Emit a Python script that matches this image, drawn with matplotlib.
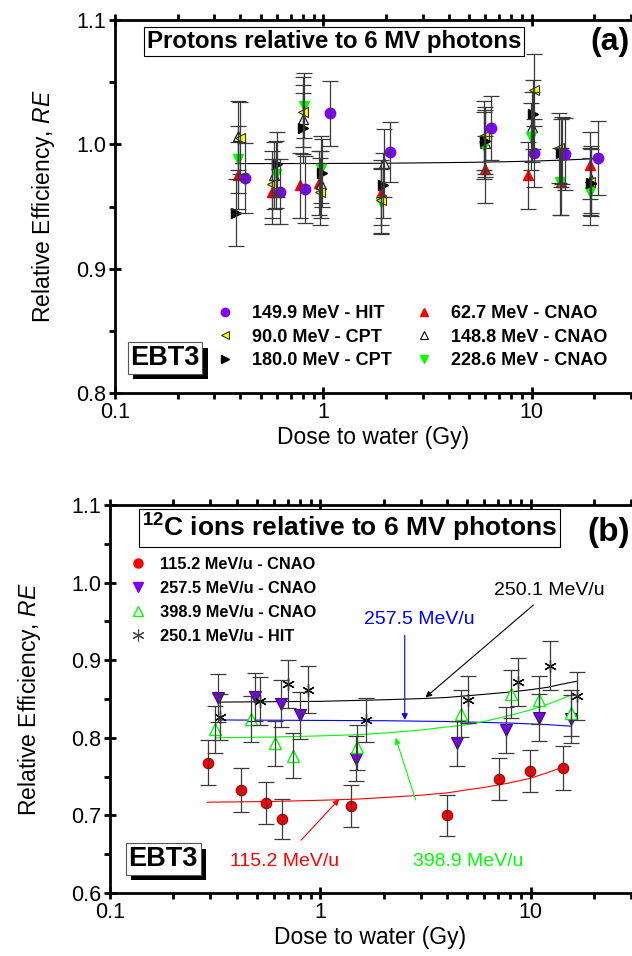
import numpy as np
import matplotlib
matplotlib.use('Agg')
import matplotlib.pyplot as plt
from matplotlib.lines import Line2D
from matplotlib.ticker import LogLocator, NullFormatter, MultipleLocator, FormatStrFormatter
from matplotlib import patheffects

plt.rcParams['font.family'] = ['Liberation Sans', 'DejaVu Sans']
plt.rcParams['mathtext.fontset'] = 'custom'
plt.rcParams['mathtext.rm'] = 'Liberation Sans'
plt.rcParams['mathtext.it'] = 'Liberation Sans:italic'
plt.rcParams['mathtext.bf'] = 'Liberation Sans:bold'

# ---- panel (a): protons relative to 6 MV photons ----
hit149_dose = [0.42, 0.62, 0.82, 1.08, 2.1, 6.4, 10.3, 14.5, 20.8]
hit149_re = [0.973, 0.962, 0.964, 1.025, 0.994, 1.013, 0.993, 0.992, 0.989]
hit149_err = [0.028, 0.026, 0.027, 0.026, 0.024, 0.026, 0.027, 0.029, 0.030]

cpt90_dose = [0.40, 0.57, 0.80, 0.96, 1.89, 5.9, 10.3, 13.6, 19.1]
cpt90_re = [1.005, 0.968, 1.026, 0.962, 0.955, 1.007, 1.044, 0.997, 0.970]
cpt90_err = [0.029, 0.027, 0.028, 0.027, 0.026, 0.028, 0.029, 0.028, 0.027]

cpt180_dose = [0.38, 0.60, 0.80, 0.99, 1.93, 6.0, 10.2, 13.9, 19.3]
cpt180_re = [0.945, 0.984, 1.013, 0.977, 0.967, 1.003, 1.024, 0.993, 0.969]
cpt180_err = [0.027, 0.026, 0.028, 0.027, 0.026, 0.027, 0.028, 0.027, 0.027]

cnao62_dose = [0.39, 0.57, 0.77, 0.95, 1.90, 6.0, 9.6, 13.9, 19.1]
cnao62_re = [0.975, 0.962, 0.967, 0.969, 0.961, 0.980, 0.975, 0.970, 0.983]
cnao62_err = [0.027, 0.026, 0.026, 0.026, 0.026, 0.027, 0.027, 0.027, 0.027]

cnao148_dose = [0.39, 0.58, 0.80, 0.97, 1.95, 6.0, 10.0, 14.0, 19.3]
cnao148_re = [1.007, 0.975, 1.020, 0.968, 0.985, 1.001, 1.014, 0.995, 0.972]
cnao148_err = [0.028, 0.027, 0.028, 0.027, 0.027, 0.027, 0.028, 0.027, 0.027]

cnao228_dose = [0.39, 0.59, 0.81, 0.97, 1.89, 5.9, 9.9, 13.7, 19.1]
cnao228_re = [0.988, 0.976, 1.031, 0.980, 0.954, 0.999, 1.006, 0.970, 0.962]
cnao228_err = [0.027, 0.027, 0.026, 0.027, 0.026, 0.027, 0.027, 0.027, 0.027]

fit_a_dose = [0.38, 1.0, 2.0, 5.0, 8.0, 11.0, 14.0, 17.0, 20.0]
fit_a_re = [0.9845, 0.9846, 0.9848, 0.9855, 0.9861, 0.9867, 0.9873, 0.9879, 0.9885]

# ---- panel (b): 12C ions relative to 6 MV photons ----
c115_dose = [0.293, 0.42, 0.55, 0.66, 1.40, 4.0, 7.06, 9.9, 14.2]
c115_re = [0.768, 0.733, 0.716, 0.695, 0.712, 0.700, 0.747, 0.757, 0.761]
c115_err = [0.029, 0.028, 0.027, 0.026, 0.027, 0.026, 0.027, 0.027, 0.028]

c257_dose = [0.327, 0.49, 0.65, 0.80, 1.48, 4.48, 7.6, 10.9, 15.5]
c257_re = [0.851, 0.853, 0.844, 0.829, 0.773, 0.793, 0.810, 0.826, 0.824]
c257_err = [0.031, 0.031, 0.030, 0.030, 0.029, 0.029, 0.030, 0.030, 0.031]

c398_dose = [0.316, 0.47, 0.61, 0.74, 1.49, 4.68, 8.05, 11.0, 15.6]
c398_re = [0.811, 0.824, 0.793, 0.777, 0.788, 0.831, 0.856, 0.849, 0.832]
c398_err = [0.030, 0.030, 0.029, 0.029, 0.029, 0.030, 0.031, 0.031, 0.030]

c250_dose = [0.334, 0.515, 0.70, 0.87, 1.65, 5.05, 8.7, 12.3, 16.7]
c250_re = [0.827, 0.847, 0.869, 0.862, 0.823, 0.849, 0.872, 0.893, 0.854]
c250_err = [0.030, 0.031, 0.031, 0.030, 0.028, 0.030, 0.031, 0.032, 0.031]

fit115_dose = [0.29, 0.6, 1.0, 1.5, 2.0, 3.0, 4.0, 5.0, 6.0, 8.0, 10.0, 12.0, 14.2]
fit115_re = [0.717, 0.718, 0.7195, 0.721, 0.723, 0.726, 0.729, 0.733, 0.736, 0.742, 0.748, 0.755, 0.762]
fit257_dose = [0.33, 2.0, 4.0, 8.0, 12.0, 15.5]
fit257_re = [0.823, 0.822, 0.821, 0.819, 0.817, 0.815]
fit398_dose = [0.316, 0.6, 1.0, 1.5, 2.0, 3.0, 4.0, 5.0, 6.0, 8.0, 10.0, 12.0, 14.0, 15.6]
fit398_re = [0.800, 0.801, 0.8025, 0.804, 0.806, 0.810, 0.814, 0.817, 0.821, 0.829, 0.836, 0.843, 0.850, 0.855]
fit250_dose = [0.33, 1.0, 2.0, 3.0, 4.0, 6.0, 8.0, 10.0, 12.0, 14.0, 16.7]
fit250_re = [0.846, 0.847, 0.849, 0.8505, 0.852, 0.856, 0.859, 0.862, 0.865, 0.869, 0.873]

PURPLE = '#8000FF'
YELLOW = '#FFFF00'
RED = '#FF0000'
GREEN = '#00FF00'
BLUE = '#0000FF'
ERRC = '#3a3a3a'


def style_axes(ax, ylo, yhi, ylabelpad):
    ax.set_xscale('log')
    ax.set_xlim(0.1, 30)
    ax.set_ylim(ylo, yhi)
    for s in ['left', 'bottom', 'top']:
        ax.spines[s].set_linewidth(2)
    ax.spines['right'].set_visible(False)
    ax.set_xticks([0.1, 1, 10])
    ax.set_xticklabels(['0.1', '1', '10'])
    ax.xaxis.set_minor_locator(LogLocator(base=10, subs=np.arange(2, 10)))
    ax.xaxis.set_minor_formatter(NullFormatter())
    ax.yaxis.set_major_locator(MultipleLocator(0.1))
    ax.yaxis.set_minor_locator(MultipleLocator(0.05))
    ax.yaxis.set_major_formatter(FormatStrFormatter('%.1f'))
    ax.tick_params(axis='x', which='major', direction='inout', length=9, width=2,
                   top=True, labelsize=15.5, pad=2)
    ax.tick_params(axis='x', which='minor', direction='out', length=4.5, width=2, top=True)
    ax.tick_params(axis='y', which='major', direction='inout', length=9, width=2,
                   right=False, labelsize=15.5, pad=2)
    ax.tick_params(axis='y', which='minor', direction='out', length=4.5, width=2, right=False)
    ax.set_xlabel('Dose to water (Gy)', fontsize=16.5, labelpad=2)
    ax.set_ylabel(r'Relative Efficiency, $\mathit{RE}$', fontsize=16.5, labelpad=ylabelpad)


def series(ax, d, v, e, **kw):
    ax.plot(d, v, ls='none', zorder=3, **kw)
    ax.errorbar(d, v, yerr=e, fmt='none', ecolor=ERRC, elinewidth=0.9,
                capsize=5.5, capthick=0.9, zorder=4)


def ebt3(ax, x, y):
    t = ax.text(x, y, 'EBT3', transform=ax.transAxes, ha='center', va='center', fontsize=19.5,
                fontweight='bold',
                bbox=dict(boxstyle='square,pad=0.1', fc='white', ec='#555555', lw=0.8), zorder=7)
    t.get_bbox_patch().set_path_effects([
        patheffects.SimplePatchShadow(offset=(4, -4), shadow_rgbFace='black', alpha=1.0),
        patheffects.Normal()])


fig = plt.figure(figsize=(6.32, 9.56), dpi=100)
ax1 = fig.add_axes([115 / 632, 1 - 393 / 956, 516 / 632, 373 / 956])
ax2 = fig.add_axes([110 / 632, 1 - 893 / 956, 521 / 632, 388 / 956])

# ---------- panel (a) ----------
style_axes(ax1, 0.8, 1.1, 14)
ax1.plot(fit_a_dose, fit_a_re, color='black', lw=0.8, zorder=2)
ms = 7.5
series(ax1, cnao62_dose, cnao62_re, cnao62_err, marker='^', ms=ms, mfc=RED, mec=RED)
series(ax1, cnao148_dose, cnao148_re, cnao148_err, marker='^', ms=ms, mfc='white', mec='black', mew=0.8)
series(ax1, cnao228_dose, cnao228_re, cnao228_err, marker='v', ms=ms, mfc=GREEN, mec=GREEN)
series(ax1, cpt90_dose, cpt90_re, cpt90_err, marker='<', ms=ms, mfc=YELLOW, mec='#333300', mew=0.8)
series(ax1, cpt180_dose, cpt180_re, cpt180_err, marker='>', ms=ms, mfc='black', mec='black')
series(ax1, hit149_dose, hit149_re, hit149_err, marker='o', ms=ms, mfc=PURPLE, mec=PURPLE)

ax1.text(0.062, 0.942, 'Protons relative to 6 MV photons', transform=ax1.transAxes,
         ha='left', va='center', fontsize=17.3, fontweight='bold',
         bbox=dict(boxstyle='square,pad=0.12', fc='white', ec='black', lw=0.8), zorder=6)
ax1.text(0.997, 0.941, '(a)', transform=ax1.transAxes, ha='right', va='center',
         fontsize=23, fontweight='bold')
ebt3(ax1, 0.097, 0.094)

h_a = [
    Line2D([], [], ls='none', marker='o', ms=6, mfc=PURPLE, mec=PURPLE),
    Line2D([], [], ls='none', marker='<', ms=6, mfc=YELLOW, mec='#333300', mew=0.8),
    Line2D([], [], ls='none', marker='>', ms=6, mfc='black', mec='black'),
    Line2D([], [], ls='none', marker='^', ms=6, mfc=RED, mec=RED),
    Line2D([], [], ls='none', marker='^', ms=6, mfc='white', mec='black', mew=0.8),
    Line2D([], [], ls='none', marker='v', ms=6, mfc=GREEN, mec=GREEN),
]
l_a = ['149.9 MeV - HIT', '90.0 MeV - CPT', '180.0 MeV - CPT',
       '62.7 MeV - CNAO', '148.8 MeV - CNAO', '228.6 MeV - CNAO']
ax1.legend(h_a, l_a, ncol=2, loc='lower left', bbox_to_anchor=(0.178, 0.04),
           frameon=False, prop={'weight': 'bold', 'size': 13}, handlelength=1.0,
           handletextpad=1.0, columnspacing=1.3, labelspacing=0.36, borderpad=0)

# ---------- panel (b) ----------
style_axes(ax2, 0.6, 1.1, 20)
ax2.plot(fit250_dose, fit250_re, color='black', lw=0.8, zorder=2)
ax2.plot(fit257_dose, fit257_re, color=BLUE, lw=0.8, zorder=2)
ax2.plot(fit398_dose, fit398_re, color=GREEN, lw=0.8, zorder=2)
ax2.plot(fit115_dose, fit115_re, color=RED, lw=0.8, zorder=2)

series(ax2, c115_dose, c115_re, c115_err, marker='o', ms=7.5, mfc=RED, mec='#990000', mew=0.8)
series(ax2, c257_dose, c257_re, c257_err, marker='v', ms=8, mfc=PURPLE, mec='#400080', mew=0.8)
series(ax2, c398_dose, c398_re, c398_err, marker='^', ms=8, mfc='white', mec=GREEN, mew=1.0)
series(ax2, c250_dose, c250_re, c250_err, marker=(6, 2, 0), ms=9, mfc='black', mec='black', mew=0.9)

ax2.text(0.061, 0.941, r'$^{\mathbf{12}}$C ions relative to 6 MV photons', transform=ax2.transAxes,
         ha='left', va='center', fontsize=19, fontweight='bold',
         bbox=dict(boxstyle='square,pad=0.12', fc='white', ec='black', lw=0.8), zorder=6)
ax2.text(0.997, 0.930, '(b)', transform=ax2.transAxes, ha='right', va='center',
         fontsize=24, fontweight='bold')
ebt3(ax2, 0.102, 0.088)

h_b = [
    Line2D([], [], ls='none', marker='o', ms=6.5, mfc=RED, mec=RED),
    Line2D([], [], ls='none', marker='v', ms=7, mfc=PURPLE, mec=PURPLE),
    Line2D([], [], ls='none', marker='^', ms=7, mfc='white', mec=GREEN, mew=1.0),
    Line2D([], [], ls='none', marker=(6, 2, 0), ms=8.5, mfc='#444444', mec='#444444', mew=0.8),
]
l_b = ['115.2 MeV/u - CNAO', '257.5 MeV/u - CNAO', '398.9 MeV/u - CNAO', '250.1 MeV/u - HIT']
ax2.legend(h_b, l_b, loc='upper left', bbox_to_anchor=(0.023, 0.888), frameon=False,
           prop={'weight': 'bold', 'size': 11.8}, handlelength=1.0, handletextpad=0.8,
           labelspacing=0.55, borderpad=0)

# annotations
arr = dict(arrowstyle='-|>', lw=0.8, mutation_scale=9, shrinkA=0, shrinkB=0)
ax2.annotate('', xy=(3.16, 0.852), xytext=(10.3, 0.971), arrowprops=dict(arr, color='black'))
ax2.text(12.3, 0.990, '250.1 MeV/u', color='black', fontsize=14, ha='center', va='center')
ax2.annotate('', xy=(2.52, 0.823), xytext=(2.52, 0.932), arrowprops=dict(arr, color=BLUE))
ax2.text(2.97, 0.952, '257.5 MeV/u', color=BLUE, fontsize=14, ha='center', va='center')
ax2.annotate('', xy=(1.23, 0.721), xytext=(0.81, 0.668), arrowprops=dict(arr, color=RED))
ax2.text(0.676, 0.640, '115.2 MeV/u', color=RED, fontsize=14, ha='center', va='center')
ax2.annotate('', xy=(2.28, 0.800), xytext=(2.84, 0.720), arrowprops=dict(arr, color=GREEN))
ax2.text(5.05, 0.640, '398.9 MeV/u', color=GREEN, fontsize=14, ha='center', va='center')

fig.savefig('out.png', dpi=100)
